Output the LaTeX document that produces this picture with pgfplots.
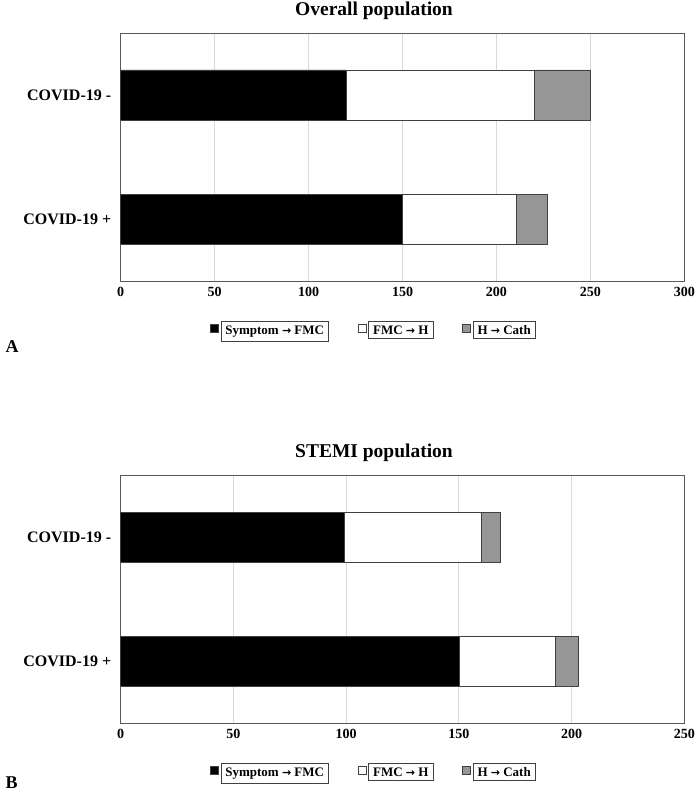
\documentclass[border=0pt]{standalone}
\usepackage{pgfplots}
\pgfplotsset{compat=1.18}
\usepackage{fontspec}
\setmainfont{Liberation Serif}
\newfontfamily\arrfont{DejaVu Sans}
\definecolor{barGray}{RGB}{150,150,150}
\definecolor{edge}{RGB}{64,64,64}
\definecolor{frameC}{RGB}{89,89,89}
\definecolor{gridc}{RGB}{217,217,217}
\setlength{\fboxrule}{0.7pt}
\setlength{\fboxsep}{4pt}
\newcommand{\lbox}[1]{\fcolorbox{edge}{white}{#1}}
\newcommand{\ar}{{\arrfont\bfseries\fontsize{11}{11}\selectfont →}}
\pgfplotsset{
  mybar/.style={
    xbar stacked, scale only axis, width=563.6pt, height=248pt,
    xmin=0, ymin=-0.5, ymax=1.5, ytick={0,1}, yticklabels={COVID-19 +, COVID-19 -},
    bar width=50pt,
    axis line style={frameC, line width=0.9pt},
    xmajorgrids, grid style={gridc, line width=0.8pt},
    major tick style={draw=none},
    /pgf/number format/assume math mode=true,
    xticklabel style={font=\fontsize{14}{14}\selectfont\bfseries, yshift=-3pt},
    yticklabel style={font=\fontsize{16}{16}\selectfont\bfseries, xshift=-6pt},
    legend style={draw=none, fill=none, legend columns=3, font=\fontsize{13}{13}\selectfont\bfseries,
      /tikz/every even column/.append style={column sep=27pt},
      at={(axis description cs:0.449,-0.19)}, anchor=center, inner sep=0pt},
    legend image code/.code={\draw[#1, draw=edge, line width=0.6pt] (0pt,-4pt) rectangle (8pt,4pt);},
    every axis plot/.append style={draw=edge, line width=0.7pt},
  }
}
\begin{document}
\begin{tikzpicture}
\path[use as bounding box] (0,0) rectangle (696pt,-794pt);
% Panel A
\begin{axis}[mybar, at={(120.7pt,-281pt)}, anchor=south west,
  xmax=300, xtick={0,50,100,150,200,250,300}]
\addplot[fill=black] coordinates {(150,0) (120,1)};
\addplot[fill=white] coordinates {(60.5,0) (100,1)};
\addplot[fill=barGray] coordinates {(16.5,0) (30,1)};
\addlegendentry{\lbox{Symptom \ar{} FMC}}
\addlegendentry{\lbox{FMC \ar{} H}}
\addlegendentry{\lbox{H \ar{} Cath}}
\end{axis}
\node[font=\fontsize{19.5}{19.5}\selectfont\bfseries, anchor=base] at (374pt,-15.5pt) {Overall population};
\node[font=\fontsize{18}{18}\selectfont\bfseries, anchor=base west] at (2pt,-352pt) {A};
% Panel B
\begin{axis}[mybar, at={(120.7pt,-723pt)}, anchor=south west,
  xmax=250, xtick={0,50,100,150,200,250}]
\addplot[fill=black] coordinates {(150,0) (99,1)};
\addplot[fill=white] coordinates {(43,0) (61,1)};
\addplot[fill=barGray] coordinates {(10,0) (8.5,1)};
\addlegendentry{\lbox{Symptom \ar{} FMC}}
\addlegendentry{\lbox{FMC \ar{} H}}
\addlegendentry{\lbox{H \ar{} Cath}}
\end{axis}
\node[font=\fontsize{19.5}{19.5}\selectfont\bfseries, anchor=base] at (374pt,-457pt) {STEMI population};
\node[font=\fontsize{18}{18}\selectfont\bfseries, anchor=base west] at (2pt,-788pt) {B};
\end{tikzpicture}
\end{document}
